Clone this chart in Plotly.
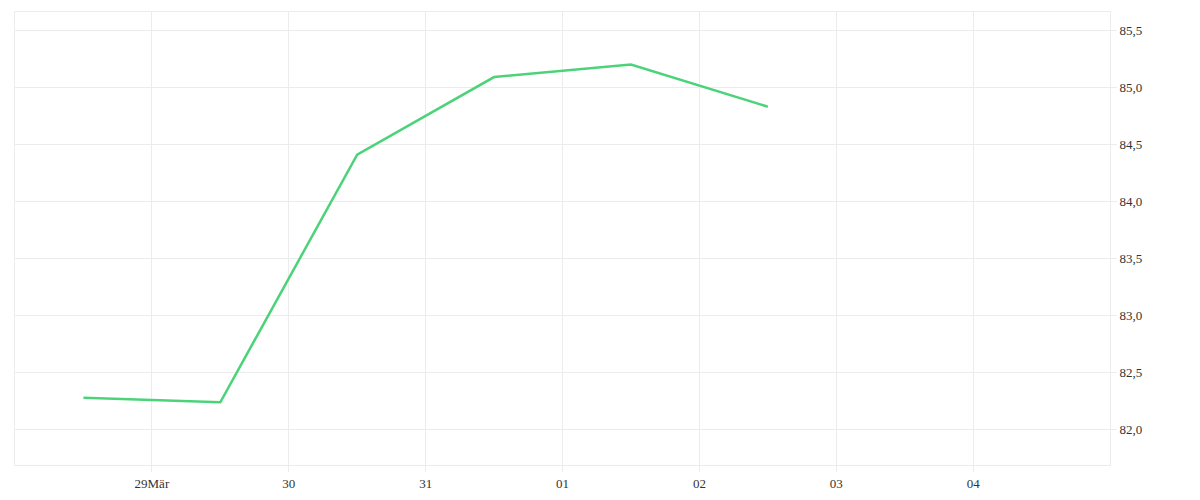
import plotly.graph_objects as go

dates = ["2024-03-28 12:00", "2024-03-29 12:00", "2024-03-30 12:00",
         "2024-03-31 12:00", "2024-04-01 12:00", "2024-04-02 12:00"]
values = [82.28, 82.24, 84.41, 85.09, 85.20, 84.83]
tick_dates = ["2024-03-29", "2024-03-30", "2024-03-31", "2024-04-01",
              "2024-04-02", "2024-04-03", "2024-04-04"]
tick_labels = ["29Mär", "30", "31", "01", "02", "03", "04"]
y_ticks = [82.0, 82.5, 83.0, 83.5, 84.0, 84.5, 85.0, 85.5]
y_labels = ["82,0", "82,5", "83,0", "83,5", "84,0", "84,5", "85,0", "85,5"]

fig = go.Figure(go.Scatter(x=dates, y=values, mode="lines",
                           line=dict(color="#4cd37a", width=2.5)))
fig.update_layout(
    width=1200, height=500, margin=dict(l=7, r=98, t=4, b=43),
    plot_bgcolor="white", paper_bgcolor="white", showlegend=False,
    font=dict(family="Liberation Serif, Times New Roman, serif", size=13, color="#333"),
)
fig.update_xaxes(range=["2024-03-28", "2024-04-05"], tickvals=tick_dates,
                 ticktext=tick_labels, showgrid=True, gridcolor="#ececec",
                 zeroline=False, showline=True, linecolor="#ececec", mirror=True,
                 ticks="outside", tickcolor="#ececec", ticklen=6)
fig.update_yaxes(side="right", range=[81.69, 85.66], tickvals=y_ticks,
                 ticktext=y_labels, showgrid=True, gridcolor="#ececec",
                 zeroline=False, showline=True, linecolor="#ececec", mirror=True,
                 ticks="outside", tickcolor="#ececec", ticklen=6)
fig.write_html("out.html")
